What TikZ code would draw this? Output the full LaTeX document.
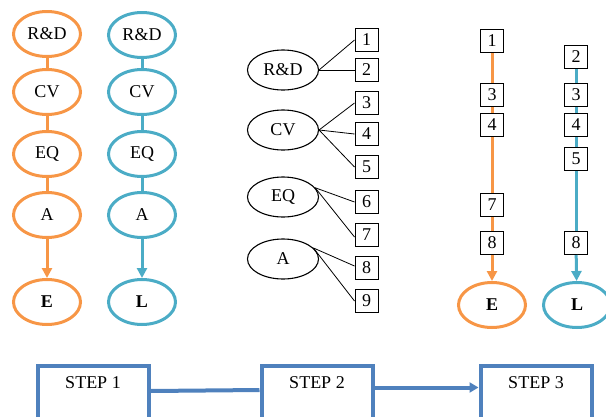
\documentclass[tikz,border=0pt]{standalone}
\usepackage{fontspec}
\setmainfont{Liberation Serif}
\usetikzlibrary{shapes.geometric,arrows.meta}
\definecolor{orng}{HTML}{F79646}
\definecolor{aqua}{HTML}{4BACC6}
\definecolor{stepblue}{HTML}{4F81BD}
\begin{document}
\begin{tikzpicture}[x=1pt,y=-1pt,
  txt/.style={font=\fontsize{18}{20}\selectfont},
  oell/.style={ellipse, draw=orng, line width=3pt, minimum width=67pt, minimum height=45pt, inner sep=0pt, txt},
  bell/.style={oell, draw=aqua},
  kell/.style={ellipse, draw=black, line width=1.1pt, minimum width=71pt, minimum height=40pt, inner sep=0pt, txt},
  nbox/.style={draw=black, line width=1pt, fill=white, minimum width=23pt, minimum height=23pt, inner sep=0pt, txt},
  oline/.style={draw=orng, line width=3pt},
  bline/.style={draw=aqua, line width=3pt},
  klink/.style={draw=black, line width=0.8pt},
  tip/.style={-{Triangle[length=10pt,width=10pt]}},
  stepbox/.style={draw=stepblue, line width=4pt, minimum width=111pt, inner xsep=0pt, inner ysep=0pt, text height=22pt, text depth=40pt, anchor=north, txt},
  sline/.style={draw=stepblue, line width=4pt}
]
\useasboundingbox (0,0) rectangle (606,416);

% left orange column
\node[oell] (oR) at (47,34) {R\&D};
\node[oell] (oC) at (47,92) {CV};
\node[oell] (oQ) at (47,154) {EQ};
\node[oell] (oA) at (47,215) {A};
\node[oell] (oE) at (47,302) {\textbf{E}};
\draw[oline] (oR) -- (oC);
\draw[oline] (oC) -- (oQ);
\draw[oline] (oQ) -- (oA);
\draw[oline, tip] (oA) -- (oE);

% left blue column
\node[bell] (bR) at (142,35) {R\&D};
\node[bell] (bC) at (142,92) {CV};
\node[bell] (bQ) at (142,154) {EQ};
\node[bell] (bA) at (142,215) {A};
\node[bell] (bL) at (142,302) {\textbf{L}};
\draw[bline] (bR) -- (bC);
\draw[bline] (bC) -- (bQ);
\draw[bline] (bQ) -- (bA);
\draw[bline, tip] (bA) -- (bL);

% middle
\node[kell] (mR) at (283,70) {R\&D};
\node[kell] (mC) at (283,130) {CV};
\node[kell] (mQ) at (283,197) {EQ};
\node[kell] (mA) at (283,259) {A};
\node[nbox] (n1) at (366.5,40) {1};
\node[nbox] (n2) at (366.5,70) {2};
\node[nbox] (n3) at (366.5,103) {3};
\node[nbox] (n4) at (366.5,134) {4};
\node[nbox] (n5) at (366.5,167) {5};
\node[nbox] (n6) at (366.5,202) {6};
\node[nbox] (n7) at (366.5,235) {7};
\node[nbox] (n8) at (366.5,268) {8};
\node[nbox] (n9) at (366.5,301) {9};
\draw[klink] (mR.east) -- (n1.west);
\draw[klink] (mR.east) -- (n2.west);
\draw[klink] (mC.east) -- (n3.west);
\draw[klink] (mC.east) -- (n4.west);
\draw[klink] (mC.east) -- (n5.west);
\draw[klink] (mQ.16) -- (n6.west);
\draw[klink] (mQ.16) -- ([yshift=-2pt]n7.west);
\draw[klink] (mA.20) -- ([yshift=2pt]n8.west);
\draw[klink] (mA.20) -- (n9.west);

% right orange
\node[nbox] (r1) at (492,41) {1};
\node[nbox] (r3) at (492,95) {3};
\node[nbox] (r4) at (492,125) {4};
\node[nbox] (r7) at (492,205) {7};
\node[nbox] (r8) at (492,243) {8};
\node[oell] (rE) at (492,305) {\textbf{E}};
\draw[oline] (r1) -- (r3);
\draw[oline] (r3) -- (r4);
\draw[oline] (r4) -- (r7);
\draw[oline] (r7) -- (r8);
\draw[oline, tip] (r8) -- (rE);

% right blue
\node[nbox] (s2) at (576,57) {2};
\node[nbox] (s3) at (576,95) {3};
\node[nbox] (s4) at (576,125) {4};
\node[nbox] (s5) at (576,159) {5};
\node[nbox] (s8) at (576,243) {8};
\node[bell] (sL) at (577,305) {\textbf{L}};
\draw[bline] (s2) -- (s3);
\draw[bline] (s3) -- (s4);
\draw[bline] (s4) -- (s5);
\draw[bline] (s5) -- (s8);
\draw[bline, tip] (s8) -- (sL);

% steps
\node[stepbox] (st1) at (93,364) {STEP 1};
\node[stepbox] (st2) at (317,364) {STEP 2};
\node[stepbox] (st3) at (536,364) {STEP 3};
\draw[sline] ([yshift=6pt]st1.east) -- ([yshift=7pt]st2.west);
\draw[sline, -{Triangle[length=9pt,width=10pt]}] ([yshift=9.5pt]st2.east) -- ([yshift=9.5pt]st3.west);
\end{tikzpicture}
\end{document}
